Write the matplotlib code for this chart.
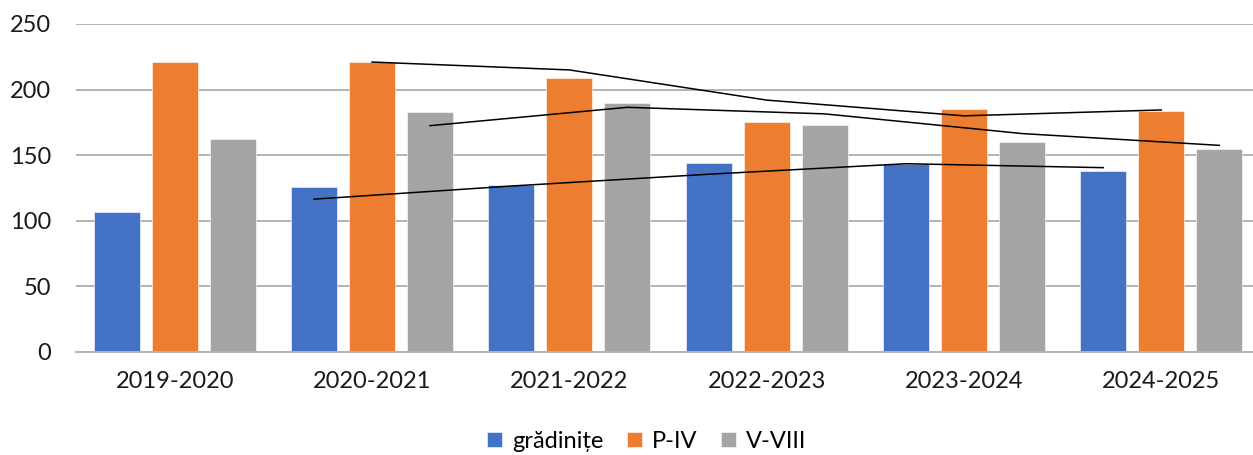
import matplotlib.pyplot as plt
import numpy as np
import pandas as pd

# Data
years = ["2019-2020", "2020-2021", "2021-2022", "2022-2023", "2023-2024", "2024-2025"]
gradinite = [107, 126, 127, 144, 143, 138]
p_iv = [221, 221, 209, 175, 185, 184]
v_viii = [162, 183, 190, 173, 160, 155]

series_names = ["grădinițe", "P-IV", "V-VIII"]
colors = ["#4472C4", "#ED7D31", "#A5A5A5"]

plt.rcParams["font.family"] = ["Lato", "DejaVu Sans"]

fig = plt.figure(figsize=(12.53, 4.55), dpi=100)
ax = fig.add_axes([76 / 1253, 103 / 455, (1260 - 76) / 1253, 328 / 455])

x = np.arange(len(years))
width = 0.233
step = 0.294

for i, (name, vals, col) in enumerate(zip(series_names, [gradinite, p_iv, v_viii], colors)):
    offs = (i - 1) * step
    ax.bar(x + offs, vals, width=width, color=col, label=name, zorder=2,
           edgecolor="white", linewidth=0.4)
    # 2-period moving average trendline (as in the original)
    ma = pd.Series(vals).rolling(2).mean()
    ax.plot(x[1:] + offs, ma.values[1:], color="black", linewidth=1.1, zorder=3)

ax.set_xlim(-0.5, len(years) - 0.5)
ax.set_ylim(0, 250)
ax.set_yticks(range(0, 251, 50))
ax.set_xticks(x)
ax.set_xticklabels(years)

ax.grid(axis="y", color="#B4B4B4", linewidth=1.4, zorder=0)
ax.set_axisbelow(True)
for s in ["top", "right", "left"]:
    ax.spines[s].set_visible(False)
ax.spines["bottom"].set_color("#B4B4B4")
ax.spines["bottom"].set_linewidth(1.4)
ax.tick_params(axis="both", length=0, labelsize=17, colors="#1a1a1a")
ax.tick_params(axis="y", pad=18)
ax.tick_params(axis="x", pad=14)

fig.legend(loc="center", bbox_to_anchor=(0.516, 0.03), ncol=3, frameon=False,
           fontsize=17, handlelength=0.65, handleheight=0.65, columnspacing=1.0,
           handletextpad=0.4)

fig.savefig("out.png", dpi=100)
